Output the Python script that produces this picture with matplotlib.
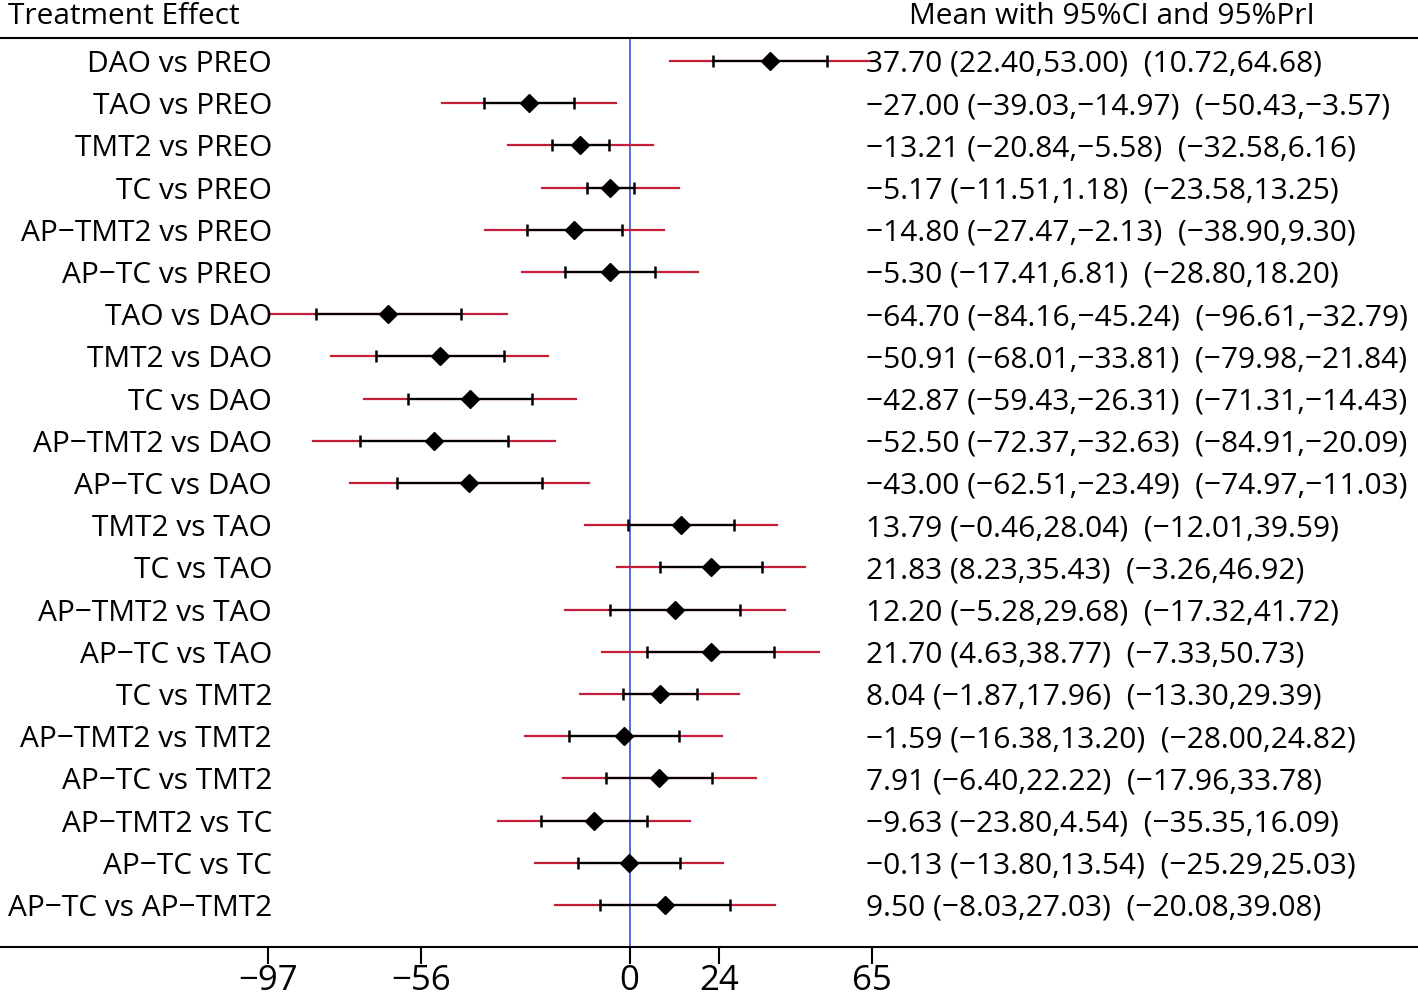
import matplotlib
matplotlib.use("Agg")
import matplotlib.pyplot as plt

plt.rcParams['font.family'] = ['Open Sans', 'DejaVu Sans']

labels = [
    "DAO vs PREO", "TAO vs PREO", "TMT2 vs PREO", "TC vs PREO",
    "AP−TMT2 vs PREO", "AP−TC vs PREO", "TAO vs DAO", "TMT2 vs DAO",
    "TC vs DAO", "AP−TMT2 vs DAO", "AP−TC vs DAO", "TMT2 vs TAO",
    "TC vs TAO", "AP−TMT2 vs TAO", "AP−TC vs TAO", "TC vs TMT2",
    "AP−TMT2 vs TMT2", "AP−TC vs TMT2", "AP−TMT2 vs TC", "AP−TC vs TC",
    "AP−TC vs AP−TMT2",
]
mean = [37.70, -27.00, -13.21, -5.17, -14.80, -5.30, -64.70, -50.91, -42.87, -52.50, -43.00,
        13.79, 21.83, 12.20, 21.70, 8.04, -1.59, 7.91, -9.63, -0.13, 9.50]
ci_lo = [22.40, -39.03, -20.84, -11.51, -27.47, -17.41, -84.16, -68.01, -59.43, -72.37, -62.51,
         -0.46, 8.23, -5.28, 4.63, -1.87, -16.38, -6.40, -23.80, -13.80, -8.03]
ci_hi = [53.00, -14.97, -5.58, 1.18, -2.13, 6.81, -45.24, -33.81, -26.31, -32.63, -23.49,
         28.04, 35.43, 29.68, 38.77, 17.96, 13.20, 22.22, 4.54, 13.54, 27.03]
pi_lo = [10.72, -50.43, -32.58, -23.58, -38.90, -28.80, -96.61, -79.98, -71.31, -84.91, -74.97,
         -12.01, -3.26, -17.32, -7.33, -13.30, -28.00, -17.96, -35.35, -25.29, -20.08]
pi_hi = [64.68, -3.57, 6.16, 13.25, 9.30, 18.20, -32.79, -21.84, -14.43, -20.09, -11.03,
         39.59, 46.92, 41.72, 50.73, 29.39, 24.82, 33.78, 16.09, 25.03, 39.08]
xticks = [-97, -56, 0, 24, 65]

W, H = 1418, 999
fig = plt.figure(figsize=(W / 100, H / 100), dpi=100)

# pixel layout of the reference
x_min_px, x_max_px = 268, 872
scale = (x_max_px - x_min_px) / (xticks[-1] - xticks[0])
xl = xticks[0] - x_min_px / scale
xr = xticks[-1] + (W - x_max_px) / scale
top_px, bot_px = 38, 947
ax = fig.add_axes([0, (H - bot_px) / H, 1, (bot_px - top_px) / H])
n = len(labels)
row_h = 42.2
ax.set_xlim(xl, xr)
ax.set_ylim(n - 1 + (bot_px - 905) / row_h, -(61 - top_px) / row_h)

red = "#c41e3a"
blue = "#3355cc"
fs = 21.5
fmt = lambda v: f"{v:.2f}".replace("-", "−")

for i in range(n):
    ax.plot([pi_lo[i], pi_hi[i]], [i, i], color=red, lw=1.6, zorder=2)
    ax.plot([ci_lo[i], ci_hi[i]], [i, i], color="black", lw=1.6, zorder=3)
    ax.plot([ci_lo[i], ci_hi[i]], [i, i], ls="none", marker="|", ms=9, mew=1.8,
            color="black", zorder=3)
    ax.plot(mean[i], i, marker="D", ms=9.5, color="black", zorder=4)
    ax.text(xticks[0] + 4 / scale, i, labels[i], ha="right", va="center_baseline", fontsize=fs)
    txt = f"{fmt(mean[i])} ({fmt(ci_lo[i])},{fmt(ci_hi[i])})  ({fmt(pi_lo[i])},{fmt(pi_hi[i])})"
    ax.text(xticks[-1] - 6 / scale, i, txt, ha="left", va="center_baseline", fontsize=fs)

ax.axvline(0, color=blue, lw=1.2, zorder=1)
ax.axhline(ax.get_ylim()[1], color="black", lw=1.5, clip_on=False)

for s in ["top", "left", "right"]:
    ax.spines[s].set_visible(False)
ax.spines["bottom"].set_linewidth(1.5)
ax.set_yticks([])
ax.set_xticks(xticks)
ax.set_xticklabels([fmt(t).split(".")[0] for t in xticks], fontsize=25)
ax.tick_params(axis="x", length=12, width=1.5, pad=0)

fig.text(8 / W, 1 - 13 / H, "Treatment Effect", ha="left", va="center_baseline", fontsize=fs)
fig.text(1112 / W, 1 - 13 / H, "Mean with 95%CI and 95%PrI", ha="center",
         va="center_baseline", fontsize=fs)

fig.savefig("out.png", dpi=100)
